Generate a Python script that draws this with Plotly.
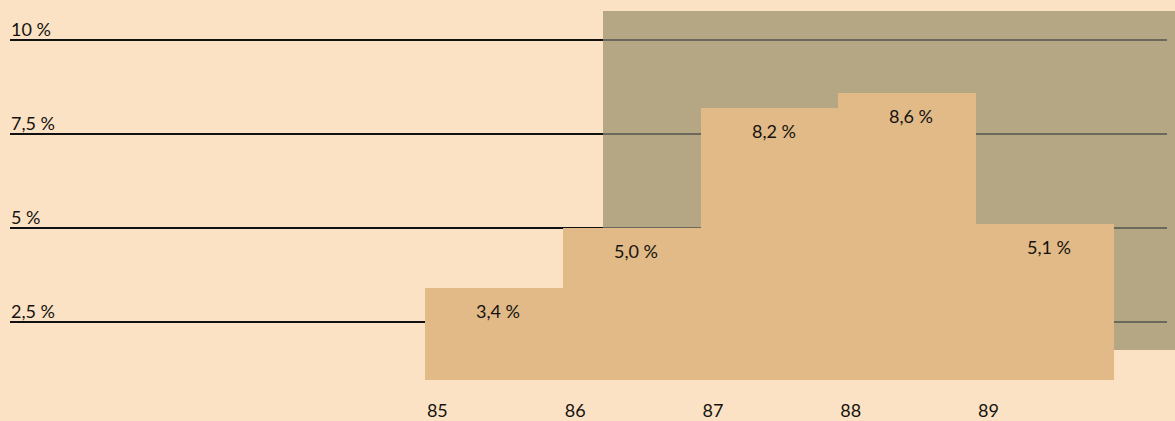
import plotly.graph_objects as go

# Yearly rate, in percent
years = [85, 86, 87, 88, 89]
year_labels = ["85", "86", "87", "88", "89"]
rates = [3.4, 5.0, 8.2, 8.6, 5.1]
rate_labels = ["3,4 %", "5,0 %", "8,2 %", "8,6 %", "5,1 %"]

# Reference levels drawn as horizontal rules
levels = [2.5, 5.0, 7.5, 10.0]
level_labels = ["2,5 %", "5 %", "7,5 %", "10 %"]

BG = "#FCE2C4"
SHADE = "#B5A784"
BAR = "#E1BA88"
INK = "#15130f"
FONT = "Lato"
BASE = 0.96  # floor of the step blocks

fig = go.Figure()

# Shaded panel behind the right-hand part of the chart
fig.add_shape(type="rect", xref="paper", yref="paper",
              x0=603 / 1175, x1=1.0, y0=1 - 350 / 398, y1=1 - 11 / 398,
              fillcolor=SHADE, line_width=0, layer="below")

# Reference rules: dark on the plain background, grey across the panel
for lv, lab in zip(levels, level_labels):
    fig.add_shape(type="line", xref="paper", yref="y",
                  x0=10 / 1175, x1=603 / 1175, y0=lv, y1=lv,
                  line=dict(color="#111", width=2.2), layer="below")
    fig.add_shape(type="line", xref="paper", yref="y",
                  x0=603 / 1175, x1=1167 / 1175, y0=lv, y1=lv,
                  line=dict(color="#6c685c", width=2), layer="below")
    fig.add_annotation(xref="paper", yref="y", x=9 / 1175, y=lv,
                       text=lab, showarrow=False, xanchor="left",
                       yanchor="bottom", yshift=-2,
                       font=dict(family=FONT, size=18, color=INK))

# Step blocks, one per year
fig.add_trace(go.Bar(
    x=[y + 0.5 for y in years],
    y=[r - BASE for r in rates],
    base=BASE,
    width=1.0,
    marker=dict(color=BAR, line_width=0),
    hoverinfo="skip",
))

for y, r, lab in zip(years, rates, rate_labels):
    fig.add_annotation(x=y + 0.53, y=r, text=lab, showarrow=False,
                       yanchor="top", yshift=-10,
                       font=dict(family=FONT, size=18, color=INK))

fig.update_layout(
    width=1175, height=421,
    margin=dict(l=0, r=0, t=0, b=23, autoexpand=False),
    paper_bgcolor=BG, plot_bgcolor=BG,
    showlegend=False,
    bargap=0,
    xaxis=dict(range=[81.916, 90.443], showgrid=False, zeroline=False,
               showline=False, ticks="", automargin=False,
               tickvals=[y + 0.09 for y in years], ticktext=year_labels,
               tickfont=dict(family=FONT, size=18, color=INK)),
    yaxis=dict(range=[0.479, 11.064], showgrid=False, zeroline=False,
               showline=False, showticklabels=False, ticks="",
               automargin=False),
)

fig.write_html("out.html")
